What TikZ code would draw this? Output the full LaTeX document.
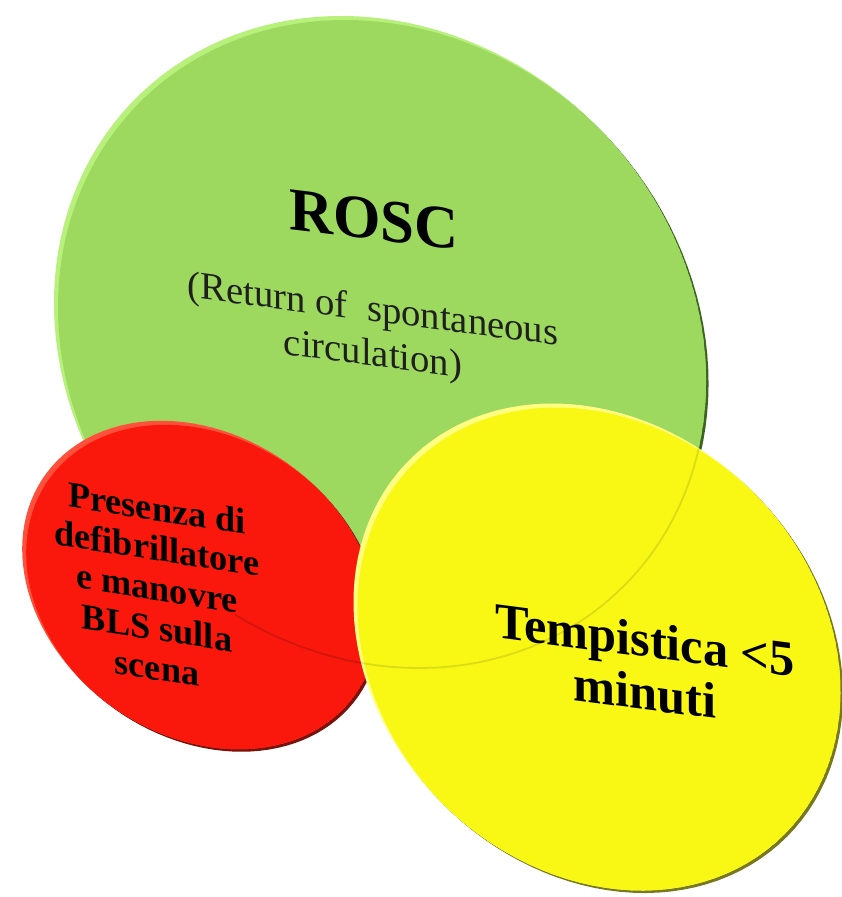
\documentclass[tikz,border=0pt]{standalone}
\usepackage{fontspec}
\setmainfont{Liberation Serif}
\definecolor{gmain}{RGB}{157,217,94}
\definecolor{glight}{RGB}{184,240,124}
\definecolor{gdark}{RGB}{62,100,34}
\definecolor{rmain}{RGB}{250,24,12}
\definecolor{rlight}{RGB}{255,80,60}
\definecolor{rdark}{RGB}{120,18,10}
\definecolor{ymain}{RGB}{248,248,20}
\definecolor{ylight}{RGB}{255,255,130}
\definecolor{ydark}{RGB}{120,120,30}
\newcommand\greenP{plot[domain=0:360,samples=140,variable=\t] ({380+345*cos(\t)*cos(-45)-306*sin(\t)*sin(-45)},{-342+345*cos(\t)*sin(-45)+306*sin(\t)*cos(-45)}) -- cycle}
\newcommand\redP{plot[domain=0:360,samples=120,variable=\t] ({200+190*cos(\t)*cos(-35)-150*sin(\t)*sin(-35)},{-585+190*cos(\t)*sin(-35)+150*sin(\t)*cos(-35)}) -- cycle}
\newcommand\yellowP{plot[domain=0:360,samples=120,variable=\t] ({597+265*cos(\t)*cos(-45)-220*sin(\t)*sin(-45)},{-647+265*cos(\t)*sin(-45)+220*sin(\t)*cos(-45)}) -- cycle}
\tikzset{
  lbl/.style={align=center, text=black, inner sep=0pt, transform shape},
  faint/.style={line width=1.5, opacity=0.3}
}
\begin{document}
\begin{tikzpicture}[x=0.03cm,y=0.03cm]
\useasboundingbox (0,0) rectangle (842,-897);
% green
\begin{scope}[shift={(2.5,-2.5)}]\fill[gdark] \greenP;\end{scope}
\begin{scope}
  \clip \greenP;
  \fill[glight] \greenP;
  \begin{scope}[shift={(4,-4)}]\fill[gmain] \greenP;\end{scope}
\end{scope}
% red
\begin{scope}[shift={(2.5,-2.5)}]\fill[rdark] \redP;\end{scope}
\begin{scope}
  \clip \redP;
  \fill[rlight] \redP;
  \begin{scope}[shift={(4,-4)}]\fill[rmain] \redP;\end{scope}
\end{scope}
\begin{scope}
  \clip \redP;
  \clip (235,0) rectangle (842,-897);
  \draw[faint, draw=rdark] \greenP;
\end{scope}
% yellow
\begin{scope}[shift={(2.5,-2.5)}]\fill[ydark] \yellowP;\end{scope}
\begin{scope}
  \clip \yellowP;
  \fill[ylight] \yellowP;
  \begin{scope}[shift={(4,-4)}]\fill[ymain] \yellowP;\end{scope}
  \draw[faint, draw=ydark, opacity=0.22] \greenP;
\end{scope}
% texts
\begin{scope}[shift={(374,-220)}, yslant=-0.12]
  \node[lbl, font=\bfseries\fontsize{52}{60}\selectfont] (rosc) at (0,0) {ROSC};
\end{scope}
\begin{scope}[shift={(373,-334)}, yslant=-0.13]
  \node[lbl, text=black!88, font=\fontsize{33}{38}\selectfont] (ret) at (0,0) {(Return of\ \ spontaneous\\circulation)};
\end{scope}
\begin{scope}[shift={(157,-588)}, yslant=-0.155]
  \node[lbl, font=\bfseries\fontsize{31}{34}\selectfont] (bls) at (0,0) {Presenza di\\defibrillatore\\e manovre\\BLS sulla\\scena};
\end{scope}
\begin{scope}[shift={(645,-666)}, yslant=-0.13]
  \node[lbl, font=\bfseries\fontsize{43}{45}\selectfont] (tempo) at (0,0) {Tempistica <5\\minuti};
\end{scope}
\end{tikzpicture}
\end{document}
